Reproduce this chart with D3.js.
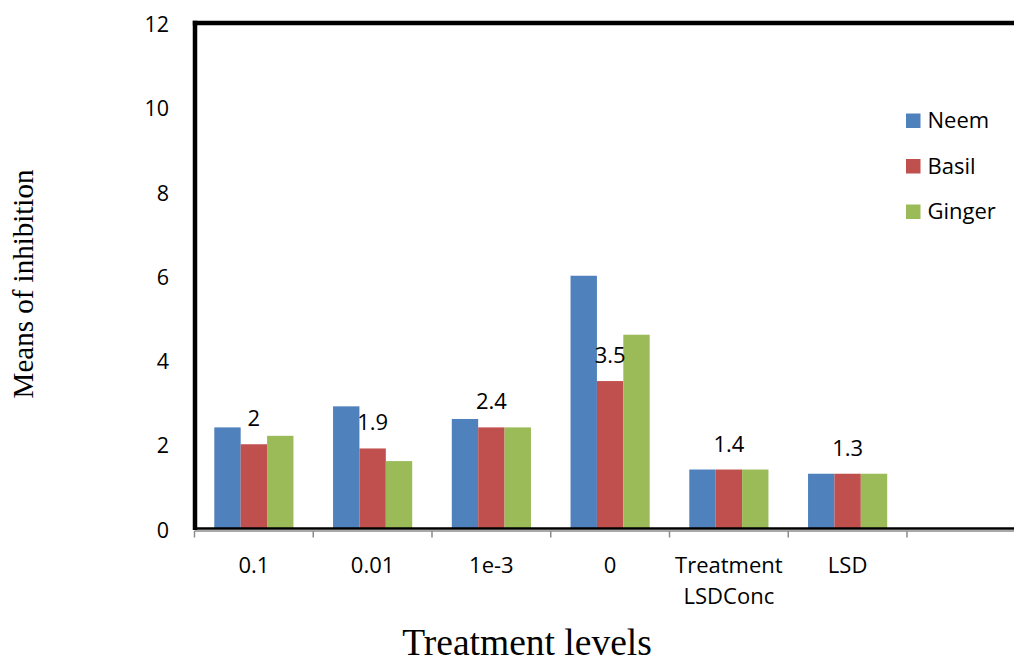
<!DOCTYPE html>
<html>
<head>
<meta charset="utf-8">
<script src="https://cdn.jsdelivr.net/npm/d3@7"></script>
<style>
  html, body { margin: 0; padding: 0; background: #fff; }
  svg { display: block; }
</style>
</head>
<body>
<svg id="chart" width="1014" height="657"></svg>
<script>
const categories = ["0.1", "0.01", "1e-3", "0", "Treatment\nLSDConc", "LSD", ""];
const seriesNames = ["Neem", "Basil", "Ginger"];
const neem   = [2.4, 2.9, 2.6, 6.0, 1.4, 1.3, null];
const basil  = [2.0, 1.9, 2.4, 3.5, 1.4, 1.3, null];
const ginger = [2.2, 1.6, 2.4, 4.6, 1.4, 1.3, null];
const basilLabels = ["2", "1.9", "2.4", "3.5", "1.4", "1.3", ""];
const yTicks = [0, 2, 4, 6, 8, 10, 12];
const colors = ["#4F81BD", "#C0504D", "#9BBB59"];

(function () {
const series = [neem, basil, ginger];
const svg = d3.select("#chart");
const pLeft = 194.5, pRight = 1025.75, pTop = 23, pBottom = 528.5;

const x = d3.scaleBand().domain(d3.range(categories.length)).range([pLeft, pRight]).paddingInner(0).paddingOuter(0);
const barW = x.bandwidth() / (3 + 1.5);
const y = d3.scaleLinear().domain([0, 12]).range([pBottom, pTop]);

// bars
series.forEach((vals, si) => {
  svg.append("g").selectAll("rect")
    .data(vals.map((v, i) => ({v, i})).filter(d => d.v !== null))
    .join("rect")
    .attr("x", d => x(d.i) + x.bandwidth() / 2 - 1.5 * barW + si * barW)
    .attr("y", d => y(d.v))
    .attr("width", barW)
    .attr("height", d => y(0) - y(d.v))
    .attr("fill", colors[si]);
});

// data labels on Basil
svg.append("g").selectAll("text")
  .data(basil.map((v, i) => ({v, i, t: basilLabels[i]})).filter(d => d.v !== null))
  .join("text")
  .attr("x", d => x(d.i) + x.bandwidth() / 2)
  .attr("y", d => y(d.v) - 18)
  .attr("text-anchor", "middle")
  .attr("font-family", "'Open Sans', sans-serif")
  .attr("font-size", 22)
  .attr("fill", "#000")
  .text(d => d.t);

// y axis labels
svg.append("g").selectAll("text")
  .data(yTicks).join("text")
  .attr("x", 169)
  .attr("y", d => y(d) + 1.5)
  .attr("dy", "0.36em")
  .attr("text-anchor", "end")
  .attr("font-family", "'Open Sans', sans-serif")
  .attr("font-size", 21.5)
  .text(d => d);

// bottom gray axis with ticks
const tickXs = d3.range(categories.length + 1).map(i => i < categories.length ? x(i) : x(categories.length - 1) + x.bandwidth());
svg.append("line").attr("x1", pLeft).attr("x2", 1014).attr("y1", 531).attr("y2", 531)
  .attr("stroke", "#8c8c8c").attr("stroke-width", 1.5);
svg.append("g").selectAll("line").data(tickXs).join("line")
  .attr("x1", d => d).attr("x2", d => d).attr("y1", 531).attr("y2", 537.5)
  .attr("stroke", "#8c8c8c").attr("stroke-width", 1.5);

// frame: left and top thick, bottom black
svg.append("line").attr("x1", pLeft).attr("x2", 1014).attr("y1", pBottom).attr("y2", pBottom)
  .attr("stroke", "#000").attr("stroke-width", 2.5);
svg.append("line").attr("x1", pLeft + 0.5).attr("x2", pLeft + 0.5).attr("y1", pTop - 2.2).attr("y2", pBottom + 1.5)
  .attr("stroke", "#000").attr("stroke-width", 4.5);
svg.append("line").attr("x1", pLeft - 1.7).attr("x2", 1014).attr("y1", pTop).attr("y2", pTop)
  .attr("stroke", "#000").attr("stroke-width", 4.5);

// category labels
const cat = svg.append("g").selectAll("text")
  .data(categories.map((c, i) => ({c, i}))).join("text")
  .attr("x", d => x(d.i) + x.bandwidth() / 2)
  .attr("y", 573)
  .attr("text-anchor", "middle")
  .attr("font-family", "'Open Sans', sans-serif")
  .attr("font-size", 22);
cat.each(function(d) {
  const lines = d.c.split("\n");
  const t = d3.select(this);
  lines.forEach((ln, k) => {
    t.append("tspan").attr("x", x(d.i) + x.bandwidth() / 2).attr("dy", k === 0 ? 0 : 31).text(ln);
  });
});

// legend
const lg = svg.append("g");
seriesNames.forEach((n, i) => {
  const cy = 120.5 + i * 45.5;
  lg.append("rect").attr("x", 906).attr("y", cy - 7).attr("width", 14.5).attr("height", 14.5).attr("fill", colors[i]);
  lg.append("text").attr("x", 927.5).attr("y", cy).attr("dy", "0.36em")
    .attr("font-family", "'Open Sans', sans-serif").attr("font-size", 22).text(n);
});

// axis titles
svg.append("text")
  .attr("transform", "translate(32.5,284) rotate(-90)")
  .attr("text-anchor", "middle")
  .attr("font-family", "'Liberation Serif', 'Times New Roman', serif")
  .attr("font-size", 29)
  .text("Means of inhibition");
svg.append("text")
  .attr("x", 527).attr("y", 655)
  .attr("text-anchor", "middle")
  .attr("font-family", "'Liberation Serif', 'Times New Roman', serif")
  .attr("font-size", 37.5)
  .text("Treatment levels");
})();
</script>
</body>
</html>
